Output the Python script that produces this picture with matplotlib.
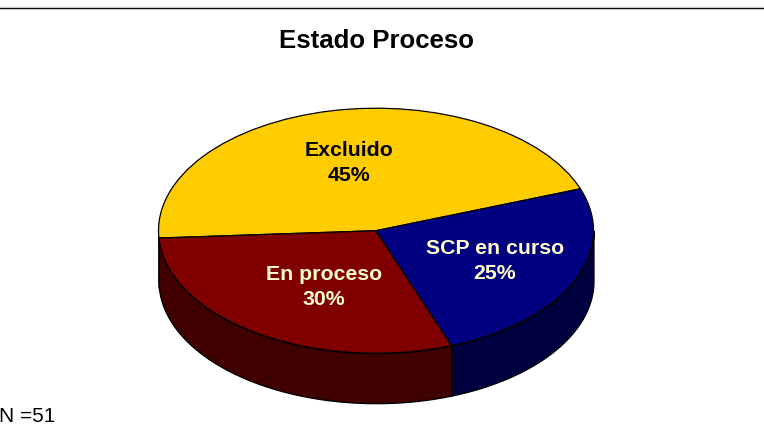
import numpy as np
import matplotlib
matplotlib.use('Agg')
import matplotlib.pyplot as plt

plt.rcParams['font.family'] = ['Liberation Sans', 'DejaVu Sans']

# Data
categories = ['Excluido', 'En proceso', 'SCP en curso']
percents = [45.4, 29.7, 24.9]  # slice sizes as drawn
percent_labels = ['45%', '30%', '25%']
top_colors = ['#FFCC00', '#800000', '#000080']
side_colors = ['#806600', '#400000', '#000040']
label_colors = ['black', '#FFFFCC', '#FFFFCC']
title = 'Estado Proceso'
note = 'N =51'

# pie geometry in pixels of the reference
W, H = 764, 436
cx, cy = 376, 230.7
rx, ry = 217.5, 122.5
depth = 50 / ry
start = 20

fig = plt.figure(figsize=(W / 100, H / 100), dpi=100)
ax = fig.add_axes([0, 0, 1, 1])

# side of the cylinder first, only the front half is visible
edges = start + np.cumsum([0] + percents) * 3.6
for i in range(len(percents)):
    for shift in (0, 360):
        a = max(edges[i] + shift, 180)
        b = min(edges[i + 1] + shift, 360)
        if b <= a:
            continue
        th = np.radians(np.linspace(a, b, 100))
        ax.fill_between(np.cos(th), np.sin(th) - depth, np.sin(th),
                        facecolor=side_colors[i], edgecolor='black', linewidth=0.9)

ax.pie(percents, colors=top_colors, startangle=start, counterclock=True, radius=1,
       wedgeprops={'edgecolor': 'black', 'linewidth': 0.9})

# pie() forces equal aspect, the tilt needs it squashed
ax.set_aspect('auto')
ax.set_xlim(-cx / rx, (W - cx) / rx)
ax.set_ylim((cy - H) / ry, cy / ry)
ax.axis('off')

# slice labels, pixel position converted to data
label_pos = [(349, 163), (324, 287), (495, 261)]
for i, (px, py) in enumerate(label_pos):
    ax.text((px - cx) / rx, (cy - py) / ry, categories[i] + '\n' + percent_labels[i],
            ha='center', va='center', fontsize=15.3, fontweight='bold',
            color=label_colors[i], linespacing=1.42)

fig.text(376.5 / W, 1 - 41 / H, title, ha='center', va='center', fontsize=18.5, fontweight='bold')
fig.text(-1 / W, 1 - 416 / H, note, ha='left', va='center', fontsize=15)

# rule across the top
fig.add_artist(plt.Line2D([0, 1], [1 - 8 / H, 1 - 8 / H], color='black', linewidth=1))
fig.add_artist(plt.Line2D([0, 1], [1 - 7 / H, 1 - 7 / H], color='#c8c8c8', linewidth=0.8))

fig.savefig('out.png', dpi=100)
